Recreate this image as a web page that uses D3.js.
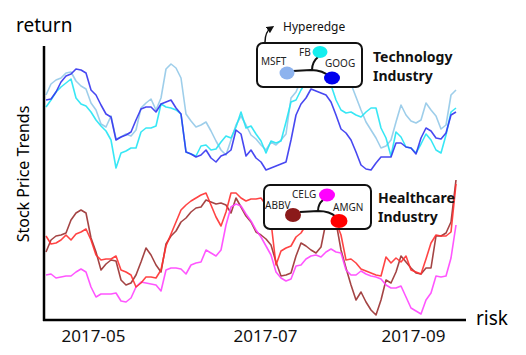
<!DOCTYPE html>
<html><head><meta charset="utf-8">
<script src="https://cdn.jsdelivr.net/npm/d3@7"></script>
<style>body{margin:0;background:#fff}text{font-family:"Noto Sans",sans-serif}</style>
</head><body><svg id="c" width="526" height="355"></svg>
<script>
// ---- data (83 trading-day samples, normalized trend values) ----
const techNames = ["MSFT", "FB", "GOOG"];
const msft = [225,236,240,242,247,248,239,234,231,217,210,196,193,204,181,183,186,184,190,212,217,221,210,222,251,256,252,242,206,199,193,195,198,189,179,170,165,180,195,204,195,185,181,175,170,178,175,180,186,222,228,240,245,248,250,250,248,246,244,242,240,236,223,210,198,190,182,172,174,180,198,215,205,199,197,200,217,210,204,191,195,225,230];
const fb = [213,220,228,233,237,241,222,216,214,208,200,194,189,180,152,167,169,172,172,188,192,192,194,216,213,212,210,206,168,166,164,174,175,170,171,178,184,182,193,208,192,194,186,179,167,179,177,179,198,218,220,230,238,242,244,242,240,235,220,210,207,208,205,203,208,212,212,192,182,164,188,183,173,172,167,176,186,180,170,167,185,208,212];
const goog = [220,221,228,238,244,246,251,250,247,230,225,215,206,203,180,183,185,188,200,211,213,213,208,216,218,220,212,206,168,166,163,165,170,162,158,164,166,170,190,186,164,170,162,158,150,152,154,156,158,180,205,216,222,231,229,227,225,218,205,191,187,180,168,155,151,150,157,163,163,163,177,177,173,172,166,182,192,189,182,181,187,205,208];
const healthNames = ["ABBV", "CELG", "AMGN"];
const abbv = [68,80,84,85,87,100,107,110,107,82,68,50,56,60,59,40,35,37,45,58,72,65,55,48,76,84,89,98,102,108,112,113,120,118,116,117,115,107,122,113,104,98,88,85,81,75,58,44,45,47,64,77,74,70,67,73,98,100,98,70,52,35,20,28,18,10,5,20,40,37,48,64,58,52,47,46,52,52,84,84,87,98,140];
const celg = [45,46,42,43,44,44,48,51,48,33,23,26,26,26,27,19,18,22,33,38,37,36,35,29,50,52,52,51,46,55,57,58,70,67,64,70,95,113,116,114,106,99,90,83,74,65,48,42,39,41,54,55,61,64,65,63,68,71,68,67,50,45,45,49,46,44,43,41,35,32,32,34,23,12,9,6,20,27,44,43,44,62,95];
const amgn = [84,76,77,80,85,80,86,88,91,80,65,60,61,61,64,50,48,45,33,37,43,43,42,50,74,86,98,110,115,119,122,125,127,115,103,94,108,127,127,122,119,121,121,122,115,98,55,69,72,74,83,87,95,98,100,100,100,100,98,85,60,61,57,51,49,47,45,44,63,57,62,58,64,50,48,46,61,77,85,84,84,88,136];
const tickIndex = [9.4, 43.8, 73.4];
const tickLabels = ["2017-05", "2017-07", "2017-09"];

const lineColors = {MSFT:"#93c9e8", FB:"#22e4f4", GOOG:"#3434f0", ABBV:"#9a3030", CELG:"#ff44ff", AMGN:"#ff3030"};
const nodeColors = {MSFT:"#8db3ee", FB:"#14eeee", GOOG:"#0000ee", ABBV:"#8b1a1a", CELG:"#ff00ff", AMGN:"#ff0000"};

const svg = d3.select("#c");
const x = d3.scaleLinear().domain([0, msft.length - 1]).range([46, 456]);
const y = d3.scaleLinear().domain([0, 274]).range([320, 46]);
const line = d3.line().x((d, i) => x(i)).y(d => y(d));

const series = [["MSFT", msft], ["FB", fb], ["GOOG", goog], ["ABBV", abbv], ["CELG", celg], ["AMGN", amgn]];
svg.append("g").selectAll("path").data(series).join("path")
  .attr("d", d => line(d[1])).attr("fill", "none")
  .attr("stroke", d => lineColors[d[0]]).attr("stroke-width", 1.6)
  .attr("stroke-opacity", 0.9).attr("stroke-linejoin", "round");

// axes
svg.append("line").attr("x1", 44).attr("x2", 44).attr("y1", 46).attr("y2", 321).attr("stroke", "#000").attr("stroke-width", 2.5);
svg.append("line").attr("x1", 43).attr("x2", 466).attr("y1", 320).attr("y2", 320).attr("stroke", "#000").attr("stroke-width", 2.5);
const xa = svg.append("g").attr("transform", "translate(0,320)")
  .call(d3.axisBottom(x).tickValues(tickIndex).tickFormat((d, i) => tickLabels[i]).tickSize(0).tickPadding(10));
xa.select(".domain").remove();
xa.selectAll("text").attr("font-size", 17).attr("fill", "#111").style("font-family", '"Noto Sans",sans-serif');

svg.append("text").attr("x", 16).attr("y", 32).attr("font-size", 19).text("return");
svg.append("text").attr("x", 476).attr("y", 325).attr("font-size", 19).text("risk");
svg.append("text").attr("transform", "translate(29,174) rotate(-90)").attr("text-anchor", "middle").attr("font-size", 16).text("Stock Price Trends");

// hyperedge annotation boxes
function box(bx, by, bw, bh, nodes, edges, title, tx, ty) {
  const g = svg.append("g");
  g.append("rect").attr("x", bx).attr("y", by).attr("width", bw).attr("height", bh).attr("rx", 6)
    .attr("fill", "#fff").attr("stroke", "#111").attr("stroke-width", 2);
  edges.forEach(e => g.append("path").attr("d", e).attr("fill", "none").attr("stroke", "#111").attr("stroke-width", 2));
  nodes.forEach(n => {
    g.append("ellipse").attr("cx", n.cx).attr("cy", n.cy).attr("rx", n.rx).attr("ry", n.ry).attr("fill", nodeColors[n.name]);
    g.append("text").attr("x", n.lx).attr("y", n.ly).attr("font-size", 10).attr("fill", "#222").text(n.name);
  });
  const t = g.append("text").attr("x", tx).attr("y", ty).attr("font-size", 14).attr("font-weight", "bold").attr("fill", "#111");
  t.append("tspan").attr("x", tx).text(title[0]);
  t.append("tspan").attr("x", tx).attr("dy", 19).text(title[1]);
}
box(257, 43, 105, 44, [
  {name: "MSFT", cx: 287, cy: 73, rx: 7.5, ry: 6.5, lx: 261, ly: 65},
  {name: "FB", cx: 320, cy: 52, rx: 7.5, ry: 6, lx: 299, ly: 56},
  {name: "GOOG", cx: 332, cy: 78, rx: 8, ry: 6.5, lx: 325, ly: 67}
], ["M293,71 L311,70 Q323,70 330,77", "M312,70 Q312,62 318,57"], ["Technology", "Industry"], 373, 62);
box(264, 185, 107, 44, [
  {name: "ABBV", cx: 293, cy: 215, rx: 8, ry: 7, lx: 265, ly: 209},
  {name: "CELG", cx: 327, cy: 195, rx: 8, ry: 6.5, lx: 292, ly: 198},
  {name: "AMGN", cx: 339, cy: 221, rx: 8.5, ry: 7, lx: 333, ly: 211}
], ["M300,212 L318,211 Q330,211 336,217", "M318,211 Q318,204 323,200"], ["Healthcare", "Industry"], 378, 203);

// arrow to "Hyperedge"
svg.append("defs").append("marker").attr("id", "ah").attr("viewBox", "0 0 10 10").attr("refX", 5).attr("refY", 5)
  .attr("markerWidth", 5).attr("markerHeight", 5).attr("orient", "auto")
  .append("path").attr("d", "M0,0 L10,5 L0,10 z").attr("fill", "#111");
svg.append("path").attr("d", "M265,42 Q265,32 271,28").attr("fill", "none").attr("stroke", "#111").attr("stroke-width", 1.5).attr("marker-end", "url(#ah)");
svg.append("text").attr("x", 283).attr("y", 31).attr("font-size", 12).attr("fill", "#111").text("Hyperedge");
</script></body></html>
